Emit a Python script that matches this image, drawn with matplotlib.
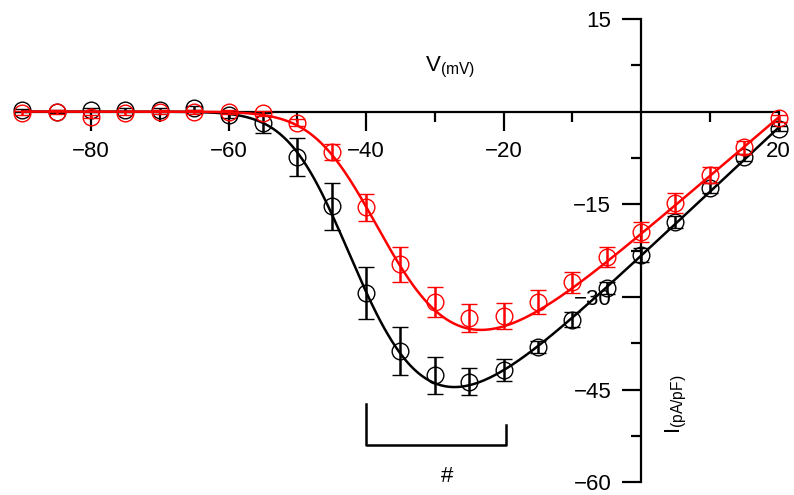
import numpy as np
import matplotlib
matplotlib.use("Agg")
from matplotlib import pyplot as plt
from matplotlib.ticker import FixedLocator

plt.rcParams["font.family"] = ["Liberation Sans", "DejaVu Sans"]
plt.rcParams["mathtext.fontset"] = "custom"
plt.rcParams["mathtext.rm"] = "Liberation Sans"

# test potentials (mV)
voltage = [-90, -85, -80, -75, -70, -65, -60, -55, -50, -45, -40, -35,
           -30, -25, -20, -15, -10, -5, 0, 5, 10, 15, 20]

# current density (pA/pF), mean and error
black_mean = [0.2, 0.0, 0.3, 0.3, 0.3, 0.6, -0.5, -1.8, -7.4, -15.3, -29.4, -38.7,
              -42.7, -43.7, -41.8, -38.1, -33.7, -28.5, -23.2, -17.9, -12.3, -7.4, -2.8]
black_err = [0.3, 0.3, 0.3, 0.3, 0.3, 0.3, 0.5, 1.6, 3.1, 3.8, 4.2, 3.9,
             3.0, 2.2, 1.8, 1.0, 1.2, 1.0, 1.2, 1.0, 0.8, 0.6, 0.4]
red_mean = [-0.2, -0.1, -0.8, -0.2, -0.1, -0.1, -0.1, -0.3, -1.8, -6.6, -15.5, -24.7,
            -30.8, -33.4, -33.1, -30.8, -27.6, -23.5, -19.5, -14.8, -10.3, -5.8, -1.1]
red_err = [0.3, 0.3, 0.3, 0.3, 0.3, 0.3, 0.3, 0.4, 0.6, 1.3, 2.2, 2.8,
           2.4, 2.3, 2.1, 2.0, 1.7, 1.6, 1.6, 1.6, 1.3, 1.0, 0.6]

# Boltzmann fit parameters: G, Erev, V1/2, k
black_fit = (1.04, 22.5, -48.4, 7.1)
red_fit = (0.95, 21.0, -44.4, 7.5)


def iv_fit(v, g, erev, vhalf, k):
    m = 1.0 / (1.0 + np.exp((vhalf - v) / k))
    return g * (v - erev) * m**3


fig = plt.figure(figsize=(7.94, 4.95), dpi=100)
ax = fig.add_axes([0, 0, 1, 1])

v_fine = np.linspace(-90, 20, 400)
for mean, err, fit, color, z in [(black_mean, black_err, black_fit, "black", 2),
                                 (red_mean, red_err, red_fit, "red", 3)]:
    ax.plot(v_fine, iv_fit(v_fine, *fit), color=color, lw=1.8, zorder=z)
    ax.errorbar(voltage, mean, yerr=err, fmt="o", ms=12, mfc="none", mec=color,
                mew=1.0, ecolor=color, elinewidth=1.8, capsize=6, capthick=1.8,
                zorder=z)

ax.set_xlim(-93.24, 22.25)
ax.set_ylim(-62.06, 18.07)

for side in ["top", "right"]:
    ax.spines[side].set_visible(False)
ax.spines["left"].set_position(("data", 0))
ax.spines["bottom"].set_position(("data", 0))
ax.spines["left"].set_bounds(-60, 15)
ax.spines["bottom"].set_bounds(-90, 20)
for side in ["left", "bottom"]:
    ax.spines[side].set_linewidth(1.6)

ax.xaxis.set_major_locator(FixedLocator([-80, -60, -40, -20, 20]))
ax.xaxis.set_minor_locator(FixedLocator([-70, -50, -30, -10, 10]))
ax.yaxis.set_major_locator(FixedLocator([-60, -45, -30, -15, 15]))
ax.yaxis.set_minor_locator(FixedLocator([-52.5, -37.5, -22.5, -7.5, 7.5]))
ax.tick_params(which="major", direction="out", length=13.5, width=1.6,
               labelsize=16, pad=8)
ax.tick_params(which="minor", direction="out", length=7, width=1.6)

ax.text(-27.8, 7.1, r"V$_{\mathregular{(mV)}}$", fontsize=16,
        ha="center", va="center")
ax.text(5.1, -47.3, r"I$_{\mathregular{(pA/pF)}}$", fontsize=16,
        ha="center", va="center", rotation=90)

# significance bracket
ax.plot([-40, -40, -19.6, -19.6], [-47.3, -54.0, -54.0, -50.8],
        color="black", lw=1.8)
ax.text(-28.2, -59.0, "#", fontsize=16, ha="center", va="center")

fig.savefig("out.png", dpi=100)
